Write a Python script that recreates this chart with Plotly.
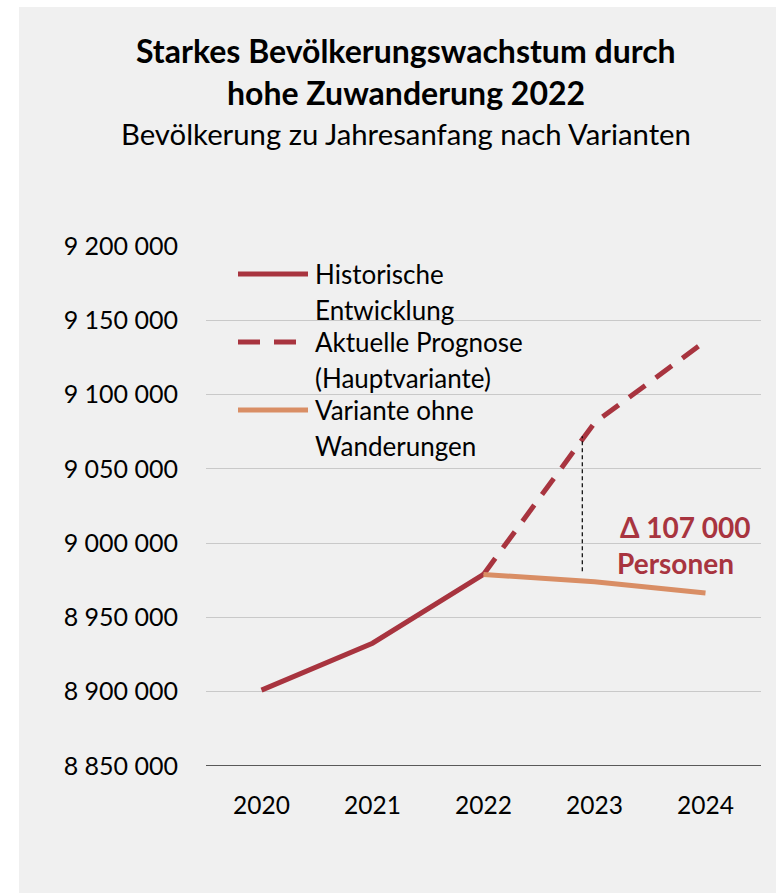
import plotly.graph_objects as go

# ---- data ----
years_hist = [2020, 2021, 2022]
pop_hist = [8901064, 8932664, 8978929]

years_prog = [2022, 2023, 2024]
pop_prog = [8978929, 9081000, 9136000]

years_nomig = [2022, 2023, 2024]
pop_nomig = [8978929, 8974000, 8966500]

y_ticks = [8850000, 8900000, 8950000, 9000000, 9050000, 9100000, 9150000, 9200000]
y_ticklabels = ["8 850 000", "8 900 000", "8 950 000", "9 000 000",
                "9 050 000", "9 100 000", "9 150 000", "9 200 000"]
x_ticks = [2020, 2021, 2022, 2023, 2024]

legend_names = [["Historische", "Entwicklung"],
                ["Aktuelle Prognose", "(Hauptvariante)"],
                ["Variante ohne", "Wanderungen"]]

RED = "#A8343F"
ORANGE = "#D98E65"
BG = "#F0F0F0"
FONT = "Lato"

W, H = 776, 893
L, R, T, B = 206, 15, 246, 127
PW, PH = W - L - R, H - T - B


def px(x):
    return (x - L) / PW


def py(y):
    return (H - B - y) / PH


fig = go.Figure()
fig.add_trace(go.Scatter(x=years_hist, y=pop_hist, mode="lines",
                         line=dict(color=RED, width=5), showlegend=False,
                         name=" ".join(legend_names[0])))
fig.add_trace(go.Scatter(x=years_prog, y=pop_prog, mode="lines",
                         line=dict(color=RED, width=5, dash="20px,13px"), showlegend=False,
                         name=" ".join(legend_names[1])))
fig.add_trace(go.Scatter(x=years_nomig, y=pop_nomig, mode="lines",
                         line=dict(color=ORANGE, width=5), showlegend=False,
                         name=" ".join(legend_names[2])))

shapes = []
# gray background panel
shapes.append(dict(type="rect", xref="paper", yref="paper",
                   x0=px(19), x1=px(776), y0=py(893), y1=py(7),
                   fillcolor=BG, line=dict(width=0), layer="below"))
# dotted difference line
shapes.append(dict(type="line", xref="x", yref="y",
                   x0=2022.89, x1=2022.89, y0=8981000, y1=9072000,
                   line=dict(color="black", width=1.2, dash="4px,3px")))

annotations = []
# legend (manual)
leg_y = [274, 342, 410]
leg_styles = [dict(color=RED, width=5), dict(color=RED, width=5, dash="22px,14px"),
              dict(color=ORANGE, width=5)]
for i in range(3):
    shapes.append(dict(type="line", xref="paper", yref="paper",
                       x0=px(238), x1=px(308), y0=py(leg_y[i]), y1=py(leg_y[i]),
                       line=leg_styles[i]))
    for j, txt in enumerate(legend_names[i]):
        annotations.append(dict(text=txt, xref="paper", yref="paper",
                                x=px(313), y=py(leg_y[i] + 36 * j),
                                xanchor="left", yanchor="middle", showarrow=False,
                                font=dict(family=FONT, size=26, color="black")))

# title and subtitle
annotations.append(dict(text="<b>Starkes Bevölkerungswachstum durch</b>", xref="paper", yref="paper",
                        x=px(406), y=py(50), xanchor="center", yanchor="middle", showarrow=False,
                        font=dict(family=FONT, size=32, color="black")))
annotations.append(dict(text="<b>hohe Zuwanderung 2022</b>", xref="paper", yref="paper",
                        x=px(406), y=py(93), xanchor="center", yanchor="middle", showarrow=False,
                        font=dict(family=FONT, size=32, color="black")))
annotations.append(dict(text="Bevölkerung zu Jahresanfang nach Varianten", xref="paper", yref="paper",
                        x=px(406), y=py(133), xanchor="center", yanchor="middle", showarrow=False,
                        font=dict(family=FONT, size=29.3, color="black")))
# delta label
annotations.append(dict(text="<b>Δ 107 000</b>", xref="paper", yref="paper",
                        x=px(685), y=py(527), xanchor="center", yanchor="middle", showarrow=False,
                        font=dict(family=FONT, size=28, color=RED)))
annotations.append(dict(text="<b>Personen</b>", xref="paper", yref="paper",
                        x=px(675), y=py(563), xanchor="center", yanchor="middle", showarrow=False,
                        font=dict(family=FONT, size=28, color=RED)))

fig.update_layout(
    width=W, height=H,
    margin=dict(l=L, r=R, t=T, b=B, autoexpand=False),
    paper_bgcolor="white", plot_bgcolor="rgba(0,0,0,0)",
    showlegend=False,
    shapes=shapes, annotations=annotations,
    font=dict(family=FONT, size=25, color="black"),
)
fig.update_xaxes(range=[2019.5, 2024.5], tickmode="array", tickvals=x_ticks,
                 ticktext=[str(v) for v in x_ticks], showgrid=False, zeroline=False,
                 showline=False, ticks="", ticklabelstandoff=22,
                 tickfont=dict(family=FONT, size=24.5, color="black"))
fig.update_yaxes(range=[8850000, 9200000], tickmode="array", tickvals=y_ticks,
                 ticktext=y_ticklabels, showgrid=True, gridcolor="#C9C9C9", gridwidth=1,
                 zeroline=False, showline=False, ticks="", ticklabelstandoff=27,
                 tickfont=dict(family=FONT, size=25, color="black"))
# bottom axis line
fig.add_shape(type="line", xref="paper", yref="y", x0=0, x1=1, y0=8850000, y1=8850000,
              line=dict(color="#595959", width=2))

fig.write_html("out.html", config={"displayModeBar": False})

# remove default page margin so the figure sits at the window origin
with open("out.html", "r", encoding="utf-8") as f:
    html = f.read()
html = html.replace("<head>", "<head><style>html,body{margin:0;padding:0;overflow:hidden;}</style>", 1)
with open("out.html", "w", encoding="utf-8") as f:
    f.write(html)
